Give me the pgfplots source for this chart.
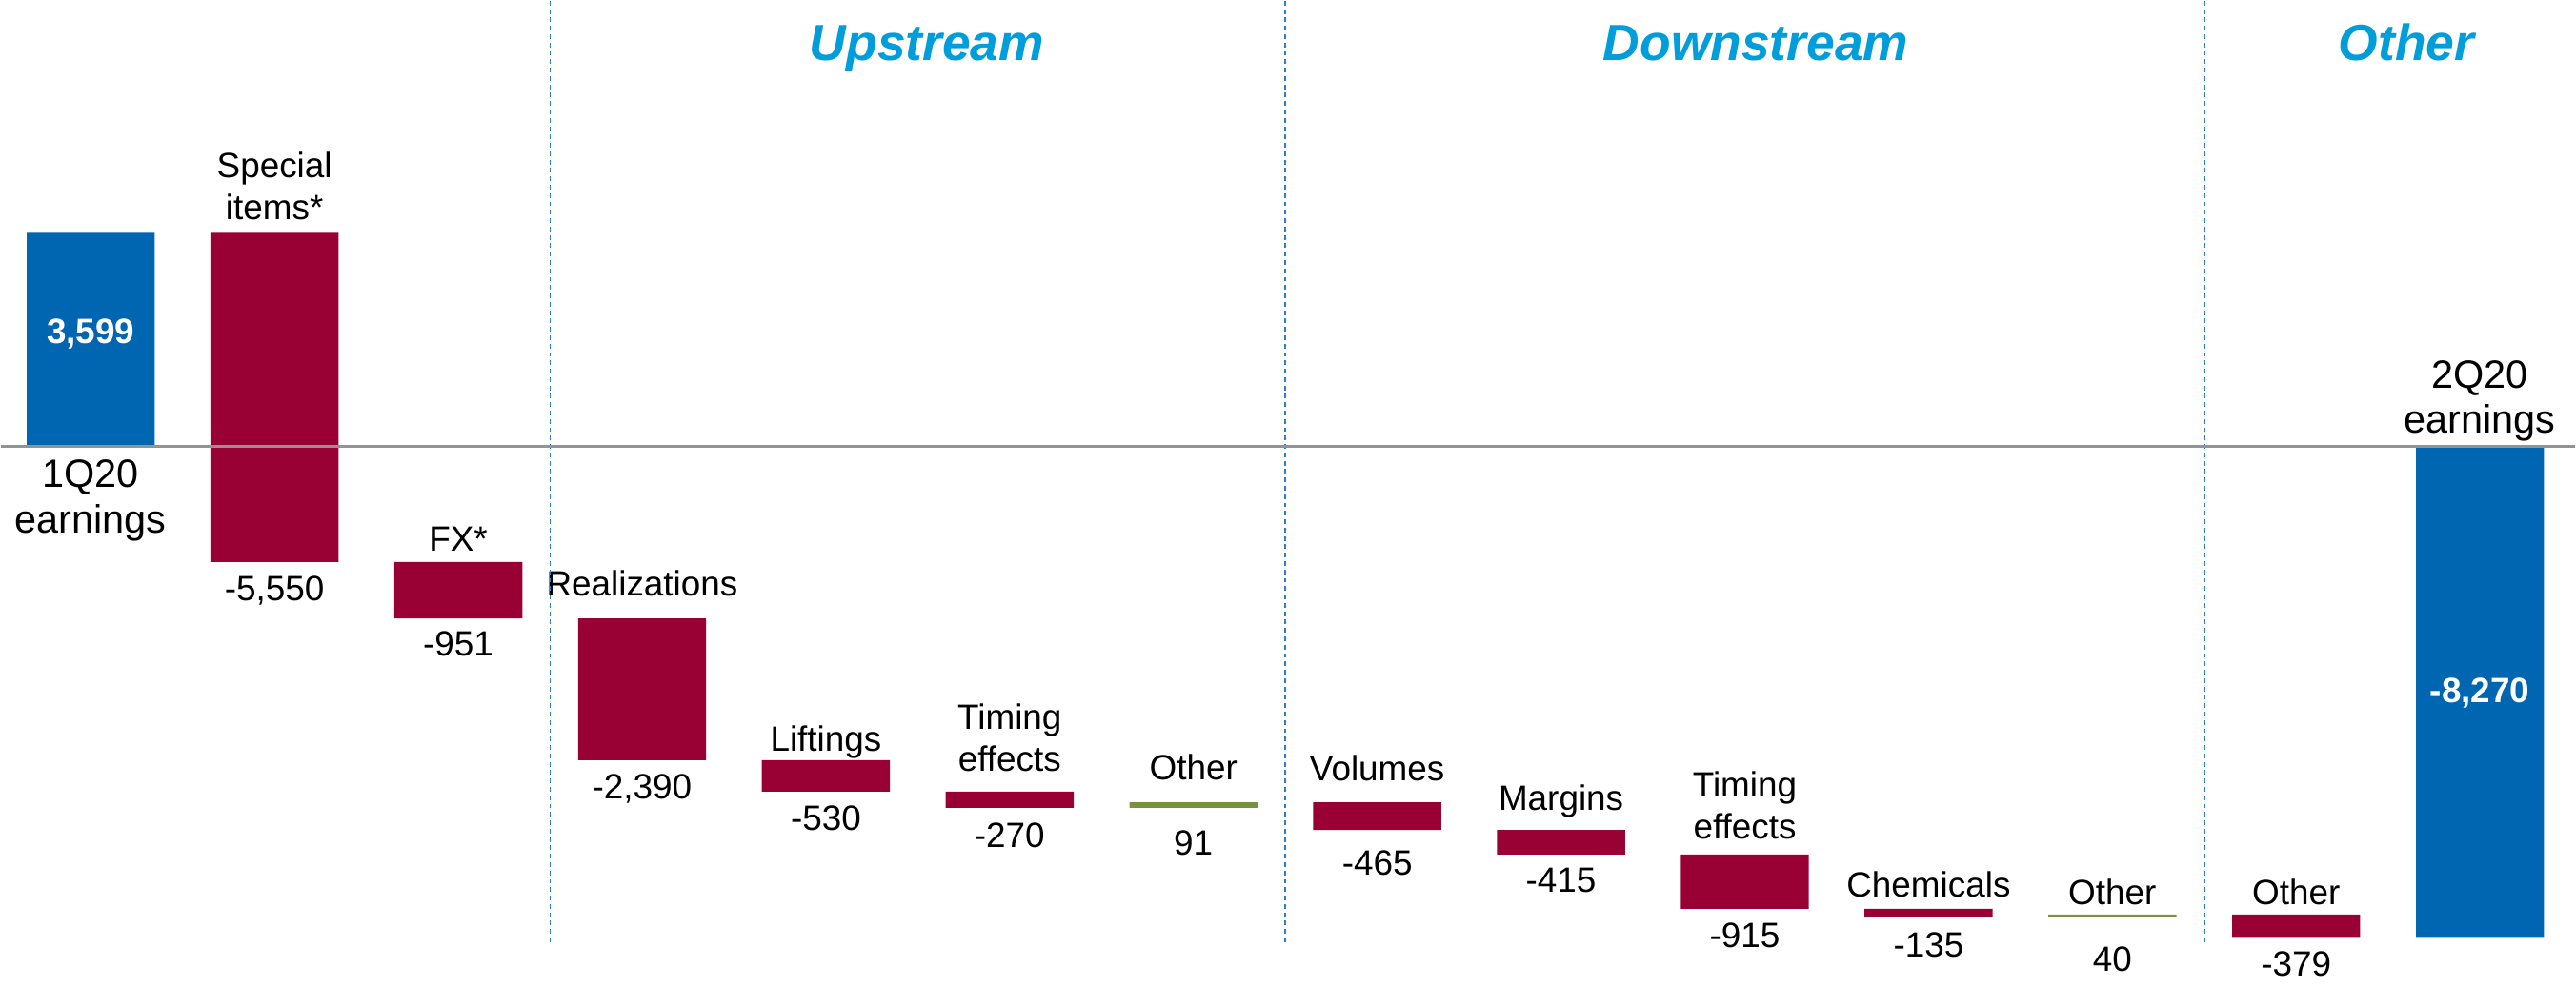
\documentclass[border=0pt]{standalone}
\usepackage{fontspec}
\setmainfont{Liberation Sans}
\usepackage{pgfplots}
\pgfplotsset{compat=1.18}

\definecolor{earnblue}{HTML}{0066B2}
\definecolor{negred}{HTML}{990033}
\definecolor{posgreen}{HTML}{77933C}
\definecolor{headblue}{HTML}{009DDB}
\definecolor{divblue}{HTML}{2F7CC9}

\begin{document}
\begin{tikzpicture}[
  lbl/.style={font=\fontsize{10.5}{12.5}\selectfont, align=center, inner sep=0pt},
  big/.style={font=\fontsize{11.8}{13.6}\selectfont, align=center, inner sep=0pt},
  head/.style={font=\fontsize{15.2}{18}\selectfont\bfseries\itshape, text=headblue, inner sep=0pt, anchor=base},
  inbar/.style={font=\fontsize{10.5}{12.5}\selectfont\bfseries, text=white, inner sep=0pt, anchor=base},
  divider/.style={divblue, line width=0.5pt, dash pattern=on 1.4pt off 1.1pt},
]
\begin{axis}[
  width=27.04cm, height=10.37cm, scale only axis, hide axis, clip=false,
  xmin=-0.4868, xmax=13.516, ymin=-9130, ymax=7510,
  ybar stacked, stack negative=on previous, bar width=0.6965,
  set layers,
  every axis plot/.append style={on layer=axis background},
]
% invisible base of each floating bar
\addplot[draw=none, fill=none] coordinates {(0,0) (1,3599) (2,-1951) (3,-2902) (4,-5292) (5,-5822) (6,-6092) (7,-6001) (8,-6466) (9,-6881) (10,-7796) (11,-7931) (12,-7891) (13,0)};
% earnings
\addplot[draw=none, fill=earnblue] coordinates {(0,3599) (1,0) (2,0) (3,0) (4,0) (5,0) (6,0) (7,0) (8,0) (9,0) (10,0) (11,0) (12,0) (13,-8270)};
% decreases
\addplot[draw=none, fill=negred] coordinates {(0,0) (1,-5550) (2,-951) (3,-2390) (4,-530) (5,-270) (6,0) (7,-465) (8,-415) (9,-915) (10,-135) (11,0) (12,-379) (13,0)};
% increases
\addplot[draw=none, fill=posgreen] coordinates {(0,0) (1,0) (2,0) (3,0) (4,0) (5,0) (6,91) (7,0) (8,0) (9,0) (10,0) (11,40) (12,0) (13,0)};

% keep the whole axis area as the picture
\path (axis cs:-0.4868,-9130) rectangle (axis cs:13.516,7510);

% zero line and segment dividers
\draw[gray!85, line width=0.75pt] (axis cs:-0.4868,0) -- (axis cs:13.516,0);
\draw[divider] (axis cs:2.5,7510) -- (axis cs:2.5,-8360);
\draw[divider] (axis cs:6.5,7510) -- (axis cs:6.5,-8360);
\draw[divider] (axis cs:11.5,7510) -- (axis cs:11.5,-8360);

\node[head] at (axis cs:4.55,6504) {Upstream};
\node[head] at (axis cs:9.06,6504) {Downstream};
\node[head] at (axis cs:12.6,6504) {Other};

\node[inbar] at (axis cs:0,1738) {3,599};
\node[inbar] at (axis cs:13,-4328) {-8,270};
\node[big, anchor=north] at (axis cs:0,-220) {1Q20\\earnings};
\node[big, anchor=south] at (axis cs:13,69) {2Q20\\earnings};

% category labels above the bars
\node[lbl, anchor=south] at (axis cs:1,3808) {Special\\items*};
\node[lbl, anchor=base] at (axis cs:2,-1770) {FX*};
\node[lbl, anchor=base] at (axis cs:3,-2519) {Realizations};
\node[lbl, anchor=base] at (axis cs:4,-5140) {Liftings};
\node[lbl, anchor=south] at (axis cs:5,-5499) {Timing\\effects};
\node[lbl, anchor=base] at (axis cs:6,-5621) {Other};
\node[lbl, anchor=base] at (axis cs:7,-5640) {Volumes};
\node[lbl, anchor=base] at (axis cs:8,-6141) {Margins};
\node[lbl, anchor=south] at (axis cs:9,-6638) {Timing\\effects};
\node[lbl, anchor=base] at (axis cs:10,-7598) {Chemicals};
\node[lbl, anchor=base] at (axis cs:11,-7734) {Other};
\node[lbl, anchor=base] at (axis cs:12,-7734) {Other};

% values below the bars
\node[lbl, anchor=north] at (axis cs:1,-2171) {-5,550};
\node[lbl, anchor=north] at (axis cs:2,-3108) {-951};
\node[lbl, anchor=north] at (axis cs:3,-5520) {-2,390};
\node[lbl, anchor=north] at (axis cs:4,-6049) {-530};
\node[lbl, anchor=north] at (axis cs:5,-6343) {-270};
\node[lbl, anchor=north] at (axis cs:6,-6462) {91};
\node[lbl, anchor=north] at (axis cs:7,-6799) {-465};
\node[lbl, anchor=north] at (axis cs:8,-7092) {-415};
\node[lbl, anchor=north] at (axis cs:9,-8028) {-915};
\node[lbl, anchor=north] at (axis cs:10,-8184) {-135};
\node[lbl, anchor=north] at (axis cs:11,-8424) {40};
\node[lbl, anchor=north] at (axis cs:12,-8504) {-379};
\end{axis}
\end{tikzpicture}
\end{document}
